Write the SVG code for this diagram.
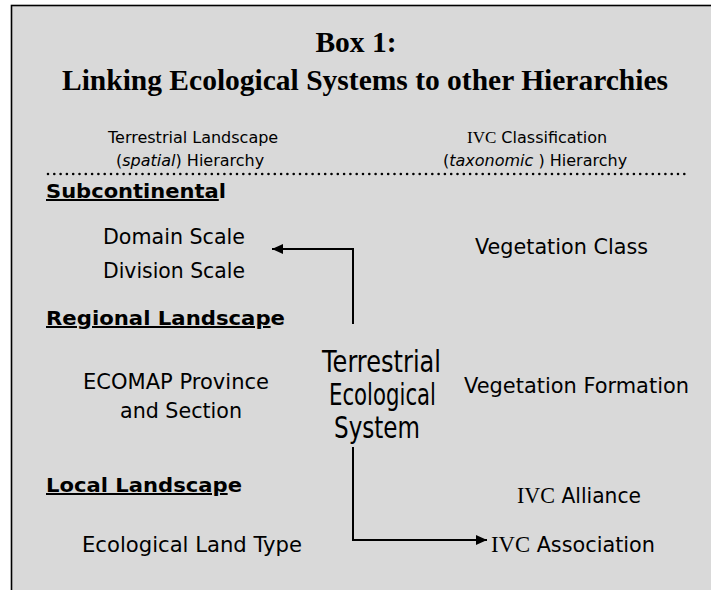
<svg xmlns="http://www.w3.org/2000/svg" width="711" height="590" viewBox="0 0 711 590">
<defs>
<style>
.title{font-family:"Liberation Serif","Times New Roman",serif;font-weight:bold;font-size:29.5px;fill:#000;text-anchor:middle}
.hdr{font-family:"DejaVu Sans",Verdana,sans-serif;font-size:16px;fill:#000}
.ser{font-family:"Liberation Serif","Times New Roman",serif}
.it{font-style:italic}
.body{font-family:"DejaVu Sans",Tahoma,sans-serif;font-size:22px;fill:#000}
.big{font-family:"DejaVu Sans",Tahoma,sans-serif;font-size:30px;fill:#000}
.head{font-family:"DejaVu Sans",Tahoma,sans-serif;font-size:20px;font-weight:bold;fill:#000}
.conn{fill:none;stroke:#000;stroke-width:2}
</style>
<marker id="arrow" viewBox="0 0 11 10" refX="11" refY="5" markerWidth="11" markerHeight="10" markerUnits="userSpaceOnUse" orient="auto">
<path d="M0,0 L11,5 L0,10 Z" fill="#000"/>
</marker>
</defs>
<rect x="0" y="0" width="711" height="590" fill="#ffffff"/>
<rect id="box" x="11.5" y="5.5" width="720" height="600" fill="#d9d9d9" stroke="#000" stroke-width="1.6"/>
<g id="title">
<text class="title" x="356" y="52">Box 1:</text>
<text class="title" x="365" y="90">Linking Ecological Systems to other Hierarchies</text>
</g>
<g id="header-spatial">
<text class="hdr" x="108" y="143">Terrestrial Landscape</text>
<text class="hdr" x="116" y="166">(<tspan class="it">spatial</tspan>) Hierarchy</text>
</g>
<g id="header-taxonomic">
<text class="hdr" x="467" y="143"><tspan class="ser" font-size="17">IVC</tspan> Classification</text>
<text class="hdr" x="443" y="166">(<tspan class="it">taxonomic</tspan> ) Hierarchy</text>
</g>
<g id="divider">
<line x1="48" y1="174" x2="688" y2="174" stroke="#000" stroke-width="2.6" stroke-linecap="round" stroke-dasharray="0 6.3"/>
</g>
<g id="subcontinental">
<text class="head" x="46" y="198" textLength="180" lengthAdjust="spacingAndGlyphs"><tspan text-decoration="underline">Subcontinenta</tspan>l</text>
</g>
<g id="domain-scale">
<text class="body" x="103" y="244" textLength="142" lengthAdjust="spacingAndGlyphs">Domain Scale</text>
</g>
<g id="division-scale">
<text class="body" x="103" y="278" textLength="142" lengthAdjust="spacingAndGlyphs">Division Scale</text>
</g>
<g id="regional-landscape">
<text class="head" x="46" y="325" textLength="239" lengthAdjust="spacingAndGlyphs"><tspan text-decoration="underline">Regional Landscap</tspan>e</text>
</g>
<g id="ecomap">
<text class="body" x="83" y="389" textLength="186" lengthAdjust="spacingAndGlyphs">ECOMAP Province</text>
<text class="body" x="120" y="418" textLength="122" lengthAdjust="spacingAndGlyphs">and Section</text>
</g>
<g id="terrestrial-ecological-system">
<text class="big" x="322" y="372" textLength="119" lengthAdjust="spacingAndGlyphs">Terrestrial</text>
<text class="big" x="329" y="405" textLength="107" lengthAdjust="spacingAndGlyphs">Ecological</text>
<text class="big" x="334" y="438" textLength="86" lengthAdjust="spacingAndGlyphs">System</text>
</g>
<g id="vegetation-class">
<text class="body" x="475" y="254" textLength="173" lengthAdjust="spacingAndGlyphs">Vegetation Class</text>
</g>
<g id="vegetation-formation">
<text class="body" x="464" y="393" textLength="225" lengthAdjust="spacingAndGlyphs">Vegetation Formation</text>
</g>
<g id="local-landscape">
<text class="head" x="46" y="492" textLength="196" lengthAdjust="spacingAndGlyphs"><tspan text-decoration="underline">Local Landscap</tspan>e</text>
</g>
<g id="ivc-alliance">
<text class="body" x="517" y="503" textLength="124" lengthAdjust="spacingAndGlyphs"><tspan class="ser" font-size="24">IVC</tspan> Alliance</text>
</g>
<g id="ecological-land-type">
<text class="body" x="82" y="552" textLength="220" lengthAdjust="spacingAndGlyphs">Ecological Land Type</text>
</g>
<g id="ivc-association">
<text class="body" x="491" y="552" textLength="164" lengthAdjust="spacingAndGlyphs"><tspan class="ser" font-size="24">IVC</tspan> Association</text>
</g>
<g id="connectors">
<path class="conn" d="M353,324 V249 H272" marker-end="url(#arrow)"/>
<path class="conn" d="M353,447 V540 H487" marker-end="url(#arrow)"/>
</g>
</svg>
